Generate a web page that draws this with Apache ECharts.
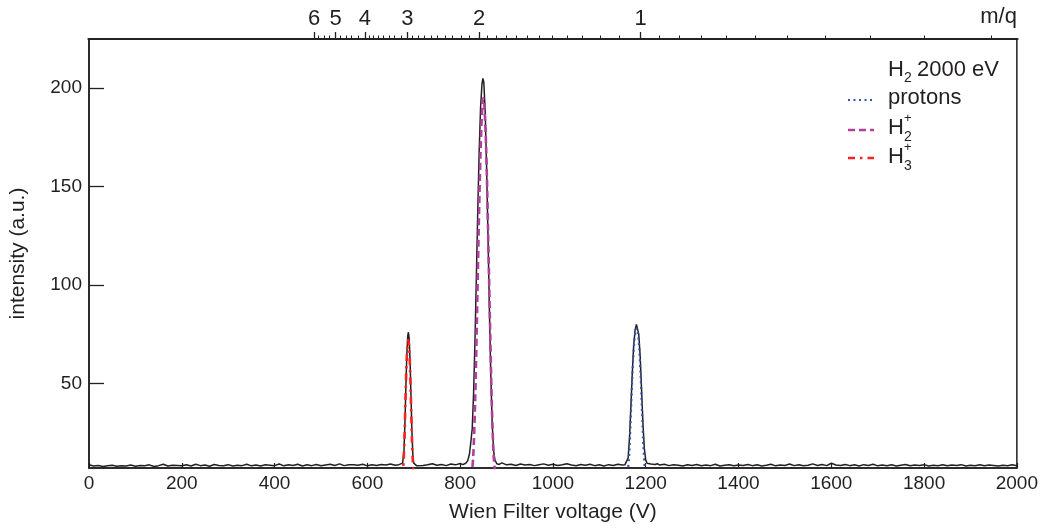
<!DOCTYPE html>
<html>
<head>
<meta charset="utf-8">
<script src="https://cdn.jsdelivr.net/npm/echarts@6/dist/echarts.min.js"></script>
<style>
  html, body { margin: 0; padding: 0; background: #fff; }
  #chart { width: 1041px; height: 528px; }
</style>
</head>
<body>
<div id="chart"></div>
<script>
// measured trace, baseline pieces sampled every 10 V
const baseA = [8.6, 8.0, 8.3, 7.8, 8.1, 8.4, 7.9, 8.2, 8.0, 8.5,
  7.9, 8.3, 8.1, 8.6, 7.8, 8.2, 8.9, 8.0, 8.4, 8.3,
  8.1, 8.6, 8.0, 8.9, 8.2, 8.5, 7.9, 8.8, 8.3, 8.1,
  8.7, 8.0, 8.4, 8.2, 8.9, 8.1, 8.5, 8.0, 8.6, 8.4,
  8.2, 9.0, 8.1, 8.7, 8.3, 8.9, 8.0, 8.6, 8.2, 8.8,
  8.1, 8.5, 8.9, 8.3, 9.1, 8.2, 8.7, 8.6, 8.4, 8.9,
  8.1, 8.6, 8.3, 8.8, 8.5, 9.0, 8.4];                 // 0 .. 660 V
const baseB = [8.9, 8.3, 8.6, 9.2, 8.4, 8.8, 8.2, 9.0, 8.6, 9.3]; // 710 .. 800 V
const baseC = [9.6, 8.6, 8.9, 8.3, 9.0, 8.5, 8.8, 8.2, 8.7, 9.1,
  8.4, 8.9, 8.3, 8.6, 9.2, 8.5, 8.1, 8.8, 8.4, 8.9,
  8.2, 8.6, 8.0, 8.7, 8.3, 8.9, 8.5];                 // 890 .. 1150 V
const baseD = [8.5, 8.9, 8.2, 8.7, 8.4, 8.0, 8.6, 8.3, 8.8, 8.1,
  8.5, 8.2, 8.9, 8.0, 8.4, 8.7, 8.1, 8.5, 8.3, 8.8,
  8.2, 8.6, 8.0, 8.4, 8.9, 8.1, 8.5, 8.3, 9.0, 8.2,
  8.7, 8.1, 8.4, 9.1, 8.3, 8.8, 8.2, 9.4, 8.5, 8.3,
  8.8, 8.2, 8.6, 8.0, 8.7, 8.3, 8.9, 8.1, 8.5, 8.2,
  8.6, 8.0, 8.4, 8.8, 8.1, 8.5, 8.3, 8.7, 8.0, 8.4,
  8.2, 8.6, 8.1, 8.5, 8.3, 8.7, 8.0, 8.4, 8.2, 8.6,
  8.1, 8.5, 8.3, 8.0, 8.4, 8.2, 8.6, 8.1];            // 1230 .. 2000 V

// measured trace around the peaks
const peakH3V = [668, 672, 676, 679, 681, 683, 685, 687, 688.5, 690, 692, 694, 696, 698, 700, 703, 706];
const peakH3I = [8.7, 8.4, 9.5, 16, 30, 48, 64, 74, 76, 73, 62, 44, 26, 14, 9.5, 8.6, 8.2];
const peakH2V = [806, 812, 816, 820, 823, 826, 829, 832, 835, 838, 841, 844, 847, 849, 851, 854, 857, 860, 863, 866, 869, 872, 875, 879, 884];
const peakH2I = [8.7, 9.4, 10.5, 14, 20, 27, 45, 72, 105, 138, 168, 190, 202, 205, 203, 188, 160, 125, 88, 55, 30, 16, 11, 9.2, 8.8];
const peakPV = [1155, 1159, 1162, 1165, 1168, 1171, 1174, 1177, 1180, 1182, 1185, 1188, 1191, 1194, 1197, 1200, 1203, 1207, 1211, 1215, 1220, 1225];
const peakPI = [8.6, 9.2, 12, 22, 38, 55, 69, 77, 80, 80, 75, 64, 47, 30, 17, 11, 9.4, 10.4, 9.0, 9.8, 8.8, 9.2];

// fitted components
const fitH3V = [675, 678, 680, 682, 684, 686, 688, 690, 692, 694, 696, 698, 700];
const fitH3I = [2, 10, 22, 40, 57, 68, 72, 69, 58, 41, 23, 10, 3];
const fitH2V = [824, 828, 832, 836, 840, 844, 848, 850, 852, 856, 860, 864, 868, 872, 876];
const fitH2I = [2, 12, 38, 80, 128, 168, 192, 195, 192, 170, 130, 85, 42, 14, 3];
const fitPV = [1160, 1164, 1167, 1170, 1173, 1176, 1179, 1181, 1183, 1186, 1189, 1192, 1195, 1198, 1202];
const fitPI = [2, 12, 28, 47, 63, 73, 77, 78, 76, 68, 54, 36, 18, 7, 1];

// axes
const yTicks = [50, 100, 150, 200];
const mqMajor = [1, 2, 3, 4, 5, 6];
const mqV1 = 1189; // Wien filter voltage for m/q = 1
// [from, to, subdivisions] for the small m/q ticks
const mqMinorRanges = [[0.375, 1, 16], [1, 2, 12], [2, 3, 10], [3, 4, 8], [4, 5, 5], [5, 6, 4]];

const FONT = "'Liberation Sans', Arial, Helvetica, sans-serif";
const INK = '#231f20';

function zip(xs, ys) { return xs.map((x, i) => [x, ys[i]]); }
function every10(v0, vals) { return vals.map((y, i) => [v0 + 10 * i, y]); }

const measured = [].concat(
  every10(0, baseA), zip(peakH3V, peakH3I),
  every10(710, baseB), zip(peakH2V, peakH2I),
  every10(890, baseC), zip(peakPV, peakPI),
  every10(1230, baseD)
);

const mqToV = m => mqV1 / Math.sqrt(m);
const majorV = mqMajor.map(mqToV);
const minorV = [];
mqMinorRanges.forEach(([a, b, n]) => {
  if (b === 1) {
    for (let m = a; m < 1 - 1e-6; m += 1 / n) minorV.push(mqToV(m));
  } else {
    for (let k = 1; k < n; k++) minorV.push(mqToV(a + k / n));
  }
});

const chart = echarts.init(document.getElementById('chart'), null, { renderer: 'canvas' });

const rect = { left: 88, right: 23, top: 39, bottom: 60 };

const option = {
  animation: false,
  backgroundColor: '#fff',
  textStyle: { fontFamily: FONT, color: INK },
  grid: [
    Object.assign({ show: true, borderColor: INK, borderWidth: 1.5, containLabel: false }, rect),
    Object.assign({ show: false, containLabel: false }, rect)
  ],
  xAxis: [
    {
      type: 'value', gridIndex: 0, position: 'bottom', min: 0, max: 2000, interval: 200,
      name: 'Wien Filter voltage (V)', nameLocation: 'middle', nameGap: 34,
      nameTextStyle: { fontSize: 21, color: INK, fontFamily: FONT },
      axisLine: { show: true, onZero: false, lineStyle: { color: INK, width: 1.5 } },
      axisTick: { show: true, inside: true, length: 5, lineStyle: { color: INK, width: 1.2 } },
      axisLabel: { fontSize: 19, color: INK, margin: 6, fontFamily: FONT, formatter: v => String(v) },
      splitLine: { show: false }
    },
    {
      type: 'value', gridIndex: 0, position: 'top', min: 0, max: 2000,
      name: 'm/q', nameLocation: 'end', nameGap: 0,
      nameTextStyle: { fontSize: 22, color: INK, fontFamily: FONT, align: 'right', verticalAlign: 'bottom', padding: [0, 0, 11, 0] },
      axisLine: { show: true, onZero: false, lineStyle: { color: INK, width: 1.5 } },
      axisTick: { show: true, inside: false, length: 7, customValues: majorV, lineStyle: { color: INK, width: 1.3 } },
      axisLabel: {
        show: true, fontSize: 22, color: INK, margin: 9, fontFamily: FONT, customValues: majorV,
        formatter: v => String(Math.round((mqV1 / v) * (mqV1 / v)))
      },
      splitLine: { show: false }
    },
    {
      type: 'value', gridIndex: 1, position: 'top', min: 0, max: 2000,
      axisLine: { show: true, onZero: false, lineStyle: { color: INK, width: 1.5 } },
      axisTick: { show: true, inside: false, length: 3.5, customValues: minorV, lineStyle: { color: INK, width: 1 } },
      axisLabel: { show: false, customValues: minorV },
      splitLine: { show: false }
    }
  ],
  yAxis: [
    {
      type: 'value', gridIndex: 0, min: 7, max: 225,
      name: 'intensity (a.u.)', nameLocation: 'middle', nameGap: 60,
      nameTextStyle: { fontSize: 21, color: INK, fontFamily: FONT },
      axisLine: { show: true, onZero: false, lineStyle: { color: INK, width: 1.5 } },
      axisTick: { show: true, inside: true, length: 15, customValues: yTicks, lineStyle: { color: INK, width: 1.3 } },
      axisLabel: { fontSize: 19, color: INK, margin: 7, fontFamily: FONT, customValues: yTicks },
      splitLine: { show: false }
    },
    {
      type: 'value', gridIndex: 1, min: 0, max: 1,
      axisLine: { show: false, onZero: false }, axisTick: { show: false }, axisLabel: { show: false }, splitLine: { show: false }
    }
  ],
  series: [
    {
      name: 'measured', type: 'line', xAxisIndex: 0, yAxisIndex: 0,
      data: measured, showSymbol: false, clip: true,
      lineStyle: { color: INK, width: 1.5 }, z: 2
    },
    {
      name: 'H3+', type: 'line', xAxisIndex: 0, yAxisIndex: 0,
      data: zip(fitH3V, fitH3I), showSymbol: false, clip: true, smooth: 0.3,
      lineStyle: { color: '#ff2020', width: 2.6, type: [7, 5, 2.5, 5] }, z: 3
    },
    {
      name: 'H2+', type: 'line', xAxisIndex: 0, yAxisIndex: 0,
      data: zip(fitH2V, fitH2I), showSymbol: false, clip: true, smooth: 0.3,
      lineStyle: { color: '#b0409c', width: 2.6, type: [7, 4] }, z: 3
    },
    {
      name: 'protons', type: 'line', xAxisIndex: 0, yAxisIndex: 0,
      data: zip(fitPV, fitPI), showSymbol: false, clip: true, smooth: 0.3,
      lineStyle: { color: '#2f55b0', width: 2.2, type: [2, 3.5] }, z: 3
    },
    // empty series so the second grid is laid out
    { type: 'line', xAxisIndex: 2, yAxisIndex: 1, data: [], silent: true }
  ],
  graphic: [
    // legend heading
    { type: 'text', x: 888, y: 70, style: { text: 'H', fontSize: 22, fontFamily: FONT, fill: INK, verticalAlign: 'middle' } },
    { type: 'text', x: 904, y: 78, style: { text: '2', fontSize: 14, fontFamily: FONT, fill: INK, verticalAlign: 'middle' } },
    { type: 'text', x: 917, y: 70, style: { text: '2000 eV', fontSize: 22, fontFamily: FONT, fill: INK, verticalAlign: 'middle' } },
    // protons
    { type: 'line', shape: { x1: 848, y1: 100, x2: 874, y2: 100 }, style: { stroke: '#2f55b0', lineWidth: 2.2, lineDash: [2, 3.5] } },
    { type: 'text', x: 888, y: 98, style: { text: 'protons', fontSize: 22, fontFamily: FONT, fill: INK, verticalAlign: 'middle' } },
    // H2+
    { type: 'line', shape: { x1: 848, y1: 130, x2: 874, y2: 130 }, style: { stroke: '#b0409c', lineWidth: 2.6, lineDash: [7, 4] } },
    { type: 'text', x: 888, y: 128, style: { text: 'H', fontSize: 22, fontFamily: FONT, fill: INK, verticalAlign: 'middle' } },
    { type: 'text', x: 904, y: 118, style: { text: '+', fontSize: 13, fontFamily: FONT, fill: INK, verticalAlign: 'middle' } },
    { type: 'text', x: 904, y: 137, style: { text: '2', fontSize: 14, fontFamily: FONT, fill: INK, verticalAlign: 'middle' } },
    // H3+
    { type: 'line', shape: { x1: 848, y1: 158, x2: 874, y2: 158 }, style: { stroke: '#ff2020', lineWidth: 2.6, lineDash: [7, 5, 2.5, 5] } },
    { type: 'text', x: 888, y: 157, style: { text: 'H', fontSize: 22, fontFamily: FONT, fill: INK, verticalAlign: 'middle' } },
    { type: 'text', x: 904, y: 147, style: { text: '+', fontSize: 13, fontFamily: FONT, fill: INK, verticalAlign: 'middle' } },
    { type: 'text', x: 904, y: 166, style: { text: '3', fontSize: 14, fontFamily: FONT, fill: INK, verticalAlign: 'middle' } }
  ]
};

chart.setOption(option);
</script>
</body>
</html>
